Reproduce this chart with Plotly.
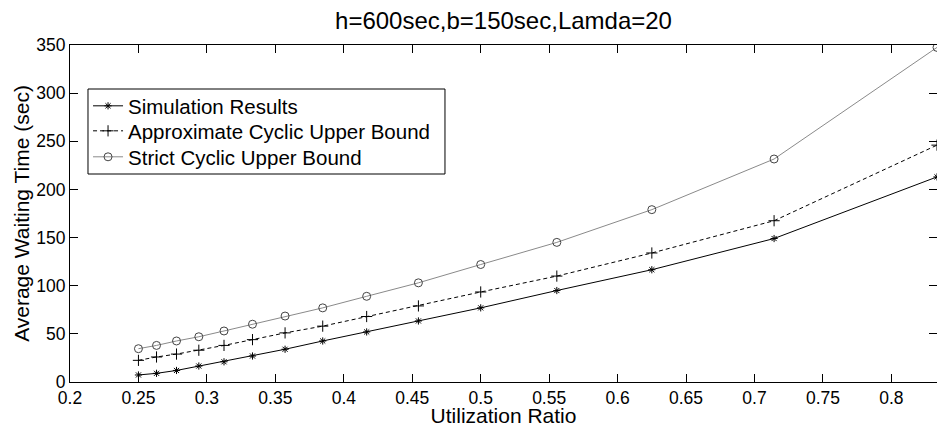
import plotly.graph_objects as go

utilization = [0.25, 0.2632, 0.2778, 0.2941, 0.3125, 0.3333, 0.3571, 0.3846,
               0.4167, 0.4545, 0.5, 0.5556, 0.625, 0.7143, 0.8333]
simulation = [7.3, 9, 12, 16.6, 21, 27, 34, 42.6, 52, 63.4, 77, 95, 116.6, 149, 213]
approx_bound = [22.5, 26, 29, 33, 38, 44, 51, 58, 68, 79, 93.5, 110, 134, 167.5, 246]
strict_bound = [34.6, 38, 42.6, 47, 53, 60, 68.5, 77, 89, 103, 122, 145, 179, 231.6, 347.5]

x_ticks = [0.2, 0.25, 0.3, 0.35, 0.4, 0.45, 0.5, 0.55, 0.6, 0.65, 0.7, 0.75, 0.8]
x_tick_text = ["0.2", "0.25", "0.3", "0.35", "0.4", "0.45", "0.5", "0.55", "0.6",
               "0.65", "0.7", "0.75", "0.8"]
y_ticks = [0, 50, 100, 150, 200, 250, 300, 350]

FONT = "Liberation Sans, Arial, Helvetica, sans-serif"

fig = go.Figure()
fig.add_trace(go.Scatter(
    x=utilization, y=simulation, name="Simulation Results", mode="lines+markers",
    legend="legend",
    line=dict(color="black", width=1),
    marker=dict(symbol="asterisk-open", size=6, color="black", line=dict(color="black", width=1)),
))
fig.add_trace(go.Scatter(
    x=utilization, y=approx_bound, name="Approximate Cyclic Upper Bound", mode="lines+markers",
    legend="legend2",
    line=dict(color="black", width=1, dash="4px,3px"),
    marker=dict(symbol="cross-thin-open", size=8, color="black", line=dict(color="black", width=1)),
))
fig.add_trace(go.Scatter(
    x=utilization, y=strict_bound, name="Strict Cyclic Upper Bound", mode="lines+markers",
    legend="legend3",
    line=dict(color="#8a8a8a", width=1),
    marker=dict(symbol="circle-open", size=8, color="#444444", line=dict(color="#444444", width=1)),
))
# invisible companion trace so the right-hand tick axis is drawn
fig.add_trace(go.Scatter(
    x=utilization, y=simulation, yaxis="y2", mode="lines", opacity=0,
    showlegend=False, hoverinfo="skip",
))

leg_common = dict(x=0.0208, xanchor="left", yanchor="middle",
                  bgcolor="rgba(0,0,0,0)", borderwidth=0,
                  font=dict(size=20.5, family=FONT, color="black"),
                  itemwidth=30, tracegroupgap=0)

fig.update_layout(
    width=937, height=427,
    margin=dict(l=70, r=0, t=45, b=45),
    paper_bgcolor="white", plot_bgcolor="white",
    font=dict(family=FONT, color="black", size=17.5),
    title=dict(text="h=600sec,b=150sec,Lamda=20", x=0.5, xref="paper",
               y=1 - 21 / 427, yref="container", yanchor="middle",
               font=dict(size=24, family=FONT, color="black")),
    showlegend=True,
    legend=dict(y=0.819, **leg_common),
    legend2=dict(y=0.7448, **leg_common),
    legend3=dict(y=0.6677, **leg_common),
    shapes=[dict(type="rect", xref="paper", yref="paper",
                 x0=0.02076, x1=0.4325, y0=0.6172, y1=0.8694,
                 line=dict(color="black", width=1), fillcolor="white", layer="above")],
    xaxis=dict(range=[0.2, 0.8333], tickvals=x_ticks, ticktext=x_tick_text,
               ticks="inside", ticklen=8, tickcolor="black", tickwidth=1,
               showline=True, linecolor="black", linewidth=1, mirror="ticks",
               showgrid=False, zeroline=False, automargin=False,
               title=dict(text="Utilization Ratio", font=dict(size=21, family=FONT), standoff=6)),
    yaxis=dict(range=[0, 350], tickvals=y_ticks,
               ticks="inside", ticklen=8, tickcolor="black", tickwidth=1,
               showline=True, linecolor="black", linewidth=1, mirror=False,
               showgrid=False, zeroline=False, automargin=False,
               title=dict(text="Average Waiting Time (sec)", font=dict(size=21, family=FONT), standoff=0)),
    yaxis2=dict(range=[0, 350], tickvals=y_ticks, overlaying="y", side="right",
                ticks="inside", ticklen=8, tickcolor="black", tickwidth=1,
                showticklabels=False, showline=False, showgrid=False, zeroline=False,
                automargin=False),
)

fig.write_html("out.html", config={"displayModeBar": False},
               post_script="document.body.style.margin='0';document.body.style.overflow='hidden';")
